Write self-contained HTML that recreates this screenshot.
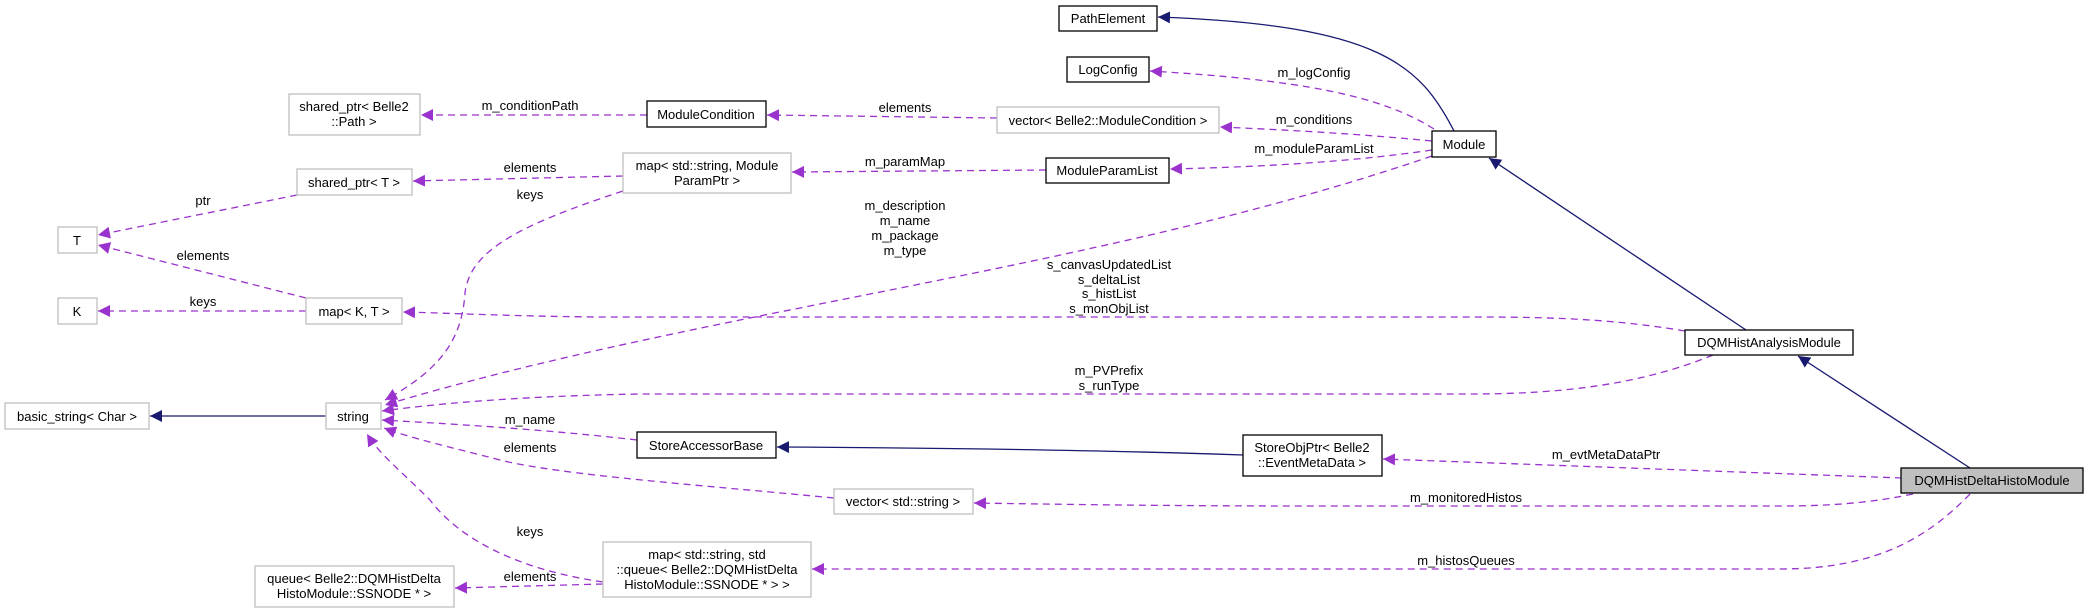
<!DOCTYPE html>
<html><head><meta charset="utf-8"><style>
html,body{margin:0;padding:0;background:#fff;}
svg{display:block;}
text{font-family:"Liberation Sans",Arial,sans-serif;font-size:13px;fill:#000;}
</style></head><body>
<svg width="2088" height="613" viewBox="0 0 2088 613" xmlns="http://www.w3.org/2000/svg">
<defs>
<marker id="ap" viewBox="0 0 10 10" refX="10" refY="5" markerWidth="12" markerHeight="12" markerUnits="userSpaceOnUse" orient="auto"><path d="M0,0 L10,5 L0,10 z" fill="#9a32cd"/></marker>
<marker id="an" viewBox="0 0 10 10" refX="10" refY="5" markerWidth="12" markerHeight="12" markerUnits="userSpaceOnUse" orient="auto"><path d="M0,0 L10,5 L0,10 z" fill="#191970"/></marker>
</defs>
<g fill="none" stroke="#9a32cd" stroke-width="1.3" stroke-dasharray="7,5" marker-end="url(#ap)">
<path d="M647,115 L421,115"/>
<path d="M997,118 L767,115"/>
<path d="M1432,141 C1360,134 1290,130 1220,127"/>
<path d="M1434,129 C1380,95 1300,80 1150,71"/>
<path d="M1432,150 C1350,162 1260,167 1170,169"/>
<path d="M1046,170 L792,172"/>
<path d="M623,176 L413,181"/>
<path d="M297,195 L98,235"/>
<path d="M306,298 L98,245"/>
<path d="M306,311 L98,311"/>
<path d="M623,191 C520,225 470,250 465,293 C462,340 440,370 385,400"/>
<path d="M1432,156 C1100,270 700,310 385,405"/>
<path d="M1685,331 C1620,320 1560,317 1480,317 L600,317 C500,316 450,313 403,312"/>
<path d="M1713,355 C1640,385 1560,394 1470,394 L640,394 C530,396 450,402 382,411"/>
<path d="M637,440 C550,430 470,425 382,420"/>
<path d="M834,498 C700,485 560,475 500,460 C450,447 410,438 384,428"/>
<path d="M603,582 C520,570 460,540 430,500 C400,470 380,455 367,434"/>
<path d="M603,584 L455,588"/>
<path d="M1902,478 L1383,459"/>
<path d="M1913,494 C1870,503 1830,506 1780,506 L1300,506 C1200,506 1100,505 974,503"/>
<path d="M1970,494 C1930,535 1880,569 1780,569 L812,569"/>
</g>
<g fill="none" stroke="#191970" stroke-width="1.3">
<path d="M1454,131 C1420,65 1380,25 1158,17" marker-end="url(#an)"/>
<path d="M1746,330 L1489,158" marker-end="url(#an)"/>
<path d="M1970,468 L1798,356" marker-end="url(#an)"/>
<path d="M1243,455 C1100,450 950,448 777,447" marker-end="url(#an)"/>
<path d="M326,416 L150,416" marker-end="url(#an)"/>
</g>
<g stroke-width="1.3">
<rect x="289" y="94" width="131" height="41" fill="#fff" stroke="#bfbfbf"/>
<rect x="647" y="101" width="119" height="26" fill="#fff" stroke="#000"/>
<rect x="997" y="107" width="222" height="26" fill="#fff" stroke="#bfbfbf"/>
<rect x="623" y="153" width="168" height="40" fill="#fff" stroke="#bfbfbf"/>
<rect x="297" y="169" width="115" height="26" fill="#fff" stroke="#bfbfbf"/>
<rect x="58" y="227" width="39" height="26" fill="#fff" stroke="#bfbfbf"/>
<rect x="58" y="298" width="39" height="26" fill="#fff" stroke="#bfbfbf"/>
<rect x="306" y="298" width="96" height="26" fill="#fff" stroke="#bfbfbf"/>
<rect x="5" y="403" width="144" height="26" fill="#fff" stroke="#bfbfbf"/>
<rect x="326" y="403" width="55" height="26" fill="#fff" stroke="#bfbfbf"/>
<rect x="637" y="432" width="139" height="26" fill="#fff" stroke="#000"/>
<rect x="834" y="489" width="139" height="25" fill="#fff" stroke="#bfbfbf"/>
<rect x="603" y="542" width="208" height="55" fill="#fff" stroke="#bfbfbf"/>
<rect x="255" y="566" width="199" height="41" fill="#fff" stroke="#bfbfbf"/>
<rect x="1059" y="6" width="98" height="25" fill="#fff" stroke="#000"/>
<rect x="1067" y="57" width="82" height="25" fill="#fff" stroke="#000"/>
<rect x="1046" y="158" width="123" height="25" fill="#fff" stroke="#000"/>
<rect x="1432" y="131" width="64" height="26" fill="#fff" stroke="#000"/>
<rect x="1685" y="330" width="168" height="25" fill="#fff" stroke="#000"/>
<rect x="1243" y="435" width="139" height="41" fill="#fff" stroke="#000"/>
<rect x="1901" y="468" width="182" height="25" fill="#bfbfbf" stroke="#000"/>
</g>
<g text-anchor="middle">
<text x="354" y="111">shared_ptr&lt; Belle2</text><text x="354" y="126">::Path &gt;</text>
<text x="706" y="119">ModuleCondition</text>
<text x="1108" y="125">vector&lt; Belle2::ModuleCondition &gt;</text>
<text x="707" y="170">map&lt; std::string, Module</text><text x="707" y="185">ParamPtr &gt;</text>
<text x="354" y="187">shared_ptr&lt; T &gt;</text>
<text x="77" y="245">T</text>
<text x="77" y="316">K</text>
<text x="354" y="316">map&lt; K, T &gt;</text>
<text x="77" y="421">basic_string&lt; Char &gt;</text>
<text x="353" y="421">string</text>
<text x="706" y="450">StoreAccessorBase</text>
<text x="903" y="506">vector&lt; std::string &gt;</text>
<text x="707" y="559">map&lt; std::string, std</text><text x="707" y="574">::queue&lt; Belle2::DQMHistDelta</text><text x="707" y="589">HistoModule::SSNODE * &gt; &gt;</text>
<text x="354" y="583">queue&lt; Belle2::DQMHistDelta</text><text x="354" y="598">HistoModule::SSNODE * &gt;</text>
<text x="1108" y="23">PathElement</text>
<text x="1108" y="74">LogConfig</text>
<text x="1107" y="175">ModuleParamList</text>
<text x="1464" y="149">Module</text>
<text x="1769" y="347">DQMHistAnalysisModule</text>
<text x="1312" y="452">StoreObjPtr&lt; Belle2</text><text x="1312" y="467">::EventMetaData &gt;</text>
<text x="1992" y="485">DQMHistDeltaHistoModule</text>
<text x="530" y="110">m_conditionPath</text>
<text x="905" y="112">elements</text>
<text x="530" y="172">elements</text>
<text x="530" y="199">keys</text>
<text x="905" y="166">m_paramMap</text>
<text x="203" y="205">ptr</text>
<text x="203" y="260">elements</text>
<text x="203" y="306">keys</text>
<text x="905" y="210">m_description</text><text x="905" y="225">m_name</text><text x="905" y="240">m_package</text><text x="905" y="255">m_type</text>
<text x="530" y="424">m_name</text>
<text x="530" y="452">elements</text>
<text x="530" y="536">keys</text>
<text x="530" y="581">elements</text>
<text x="1314" y="77">m_logConfig</text>
<text x="1314" y="124">m_conditions</text>
<text x="1314" y="153">m_moduleParamList</text>
<text x="1109" y="269">s_canvasUpdatedList</text><text x="1109" y="284">s_deltaList</text><text x="1109" y="298">s_histList</text><text x="1109" y="313">s_monObjList</text>
<text x="1109" y="375">m_PVPrefix</text><text x="1109" y="390">s_runType</text>
<text x="1606" y="459">m_evtMetaDataPtr</text>
<text x="1466" y="502">m_monitoredHistos</text>
<text x="1466" y="565">m_histosQueues</text>
</g>
</svg>
</body></html>
